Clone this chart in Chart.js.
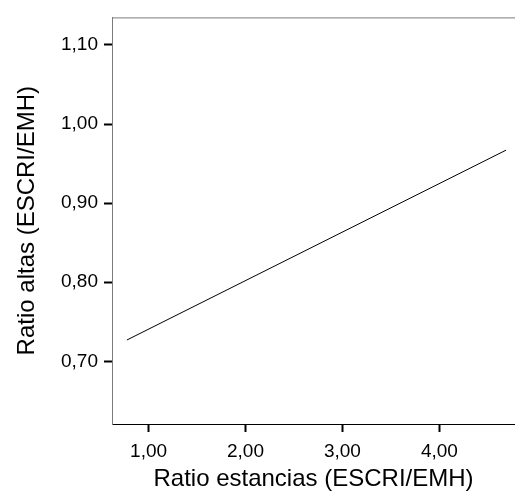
<!DOCTYPE html>
<html>
<head>
<meta charset="utf-8">
<script src="https://cdn.jsdelivr.net/npm/chart.js@4.4.0/dist/chart.umd.min.js"></script>
<style>
  html, body { margin: 0; padding: 0; background: #fff; }
  #wrap { width: 515px; height: 491px; }
</style>
</head>
<body>
<div id="wrap"><canvas id="grafico" width="515" height="491"></canvas></div>
<script>
// Datos de la recta (extremos)
const ratioEstancias = [0.777, 4.688];
const ratioAltas = [0.727, 0.967];
const ticksX = [1, 2, 3, 4];
const ticksY = [0.7, 0.8, 0.9, 1.0, 1.1];

// Formato con coma decimal
const fmt = v => v.toFixed(2).replace('.', ',');

// Línea superior gris del marco
const bordeSuperior = {
    id: 'bordeSuperior',
    afterDraw(chart) {
        const { ctx, chartArea } = chart;
        ctx.save();
        ctx.strokeStyle = '#7a7a7a';
        ctx.lineWidth = 1;
        ctx.beginPath();
        ctx.moveTo(chartArea.left, chartArea.top + 0.5);
        ctx.lineTo(chartArea.right, chartArea.top + 0.5);
        ctx.stroke();
        ctx.restore();
    }
};

const ctx = document.getElementById('grafico').getContext('2d');
new Chart(ctx, {
    type: 'line',
    data: {
        datasets: [{
            data: ratioEstancias.map((x, i) => ({ x: x, y: ratioAltas[i] })),
            borderColor: '#000',
            borderWidth: 1,
            pointRadius: 0,
            fill: false,
        }],
    },
    options: {
        responsive: false,
        animation: false,
        devicePixelRatio: 1,
        layout: { padding: { top: 15, right: 0, left: 0, bottom: 0 } },
        plugins: {
            legend: { display: false },
            tooltip: { enabled: false },
        },
        scales: {
            x: {
                type: 'linear',
                min: 0.623,
                max: 4.78,
                afterFit: s => { s.height = 67; },
                afterBuildTicks: s => { s.ticks = ticksX.map(v => ({ value: v })); },
                grid: { drawOnChartArea: false, tickLength: 8, tickWidth: 2, tickColor: '#000' },
                border: { color: '#000', width: 1 },
                ticks: {
                    color: '#000',
                    padding: 8,
                    maxRotation: 0,
                    font: { family: 'Liberation Sans', size: 19 },
                    callback: v => fmt(v),
                },
                title: {
                    display: true,
                    text: 'Ratio estancias (ESCRI/EMH)',
                    color: '#000',
                    padding: { top: 0, bottom: 0 },
                    font: { family: 'Liberation Sans', size: 24, lineHeight: 1 },
                },
            },
            y: {
                type: 'linear',
                min: 0.6208,
                max: 1.1348,
                afterFit: s => { s.width = 112; },
                afterBuildTicks: s => { s.ticks = ticksY.map(v => ({ value: v })); },
                grid: { drawOnChartArea: false, tickLength: 8, tickWidth: 2, tickColor: '#000' },
                border: { color: '#7a7a7a', width: 1 },
                ticks: {
                    color: '#000',
                    padding: 6,
                    font: { family: 'Liberation Sans', size: 19 },
                    callback: v => fmt(v),
                },
                title: {
                    display: true,
                    text: 'Ratio altas (ESCRI/EMH)',
                    color: '#000',
                    padding: { top: 15, bottom: 0 },
                    font: { family: 'Liberation Sans', size: 24, lineHeight: 1 },
                },
            },
        },
    },
    plugins: [bordeSuperior],
});
</script>
</body>
</html>
